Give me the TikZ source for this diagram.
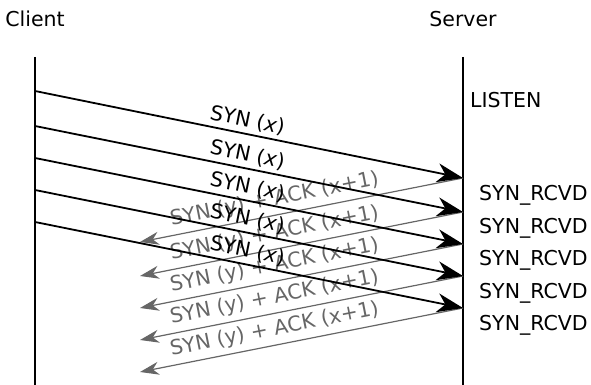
\documentclass[tikz,border=0pt]{standalone}
\usepackage{fontspec}
\setmainfont{DejaVu Sans}
\usetikzlibrary{arrows.meta}
\definecolor{ackgray}{HTML}{666666}
\begin{document}
\begin{tikzpicture}[x=1pt,y=-1pt,
  every node/.style={font=\fontsize{20.5}{24}\selectfont},
  lifeline/.style={line width=1.9pt, black},
  synarrow/.style={line width=1.8pt, black, -{Stealth[length=26pt,width=19pt,inset=8pt]}},
  ackarrow/.style={line width=1.2pt, ackgray, -{Stealth[length=19pt,width=13pt,inset=6pt]}},
  synlabel/.style={sloped, above, pos=0.49, inner sep=3.5pt, text=black},
  acklabel/.style={sloped, above, pos=0.574, inner sep=5pt, text=ackgray},
  statelabel/.style={anchor=base west, inner sep=0pt}]
\useasboundingbox (0,0) rectangle (591,385);
% lifelines
\coordinate (ctop) at (35,57);
\coordinate (cbot) at (35,385);
\coordinate (stop) at (463,57);
\coordinate (sbot) at (463,385);
\draw[lifeline] (ctop) -- (cbot);
\draw[lifeline] (stop) -- (sbot);
\node[anchor=base, inner sep=0pt] (client) at (35,27) {Client};
\node[anchor=base, inner sep=0pt] (server) at (463,27) {Server};
\node[statelabel] (listen) at (470,108) {LISTEN};
% client send points
\coordinate (c1) at (35,91);
\coordinate (c2) at (35,126);
\coordinate (c3) at (35,158);
\coordinate (c4) at (35,190);
\coordinate (c5) at (35,222);
% server receive points
\coordinate (s1) at (463,178);
\coordinate (s2) at (463,212);
\coordinate (s3) at (463,244);
\coordinate (s4) at (463,276);
\coordinate (s5) at (463,308);
% client receive points (ack tips)
\coordinate (r1) at (140,242);
\coordinate (r2) at (140,276);
\coordinate (r3) at (140,308);
\coordinate (r4) at (140,340);
\coordinate (r5) at (140,372);
% ack arrows
\foreach \i in {1,...,5}{
  \draw[ackarrow] (s\i) -- node[acklabel] (ack\i) {SYN (y) + ACK (x+1)} (r\i);
}
% syn arrows
\foreach \i in {1,...,5}{
  \draw[synarrow] (c\i) -- node[synlabel] (syn\i) {SYN (\textit{x})} (s\i);
}
% states
\node[statelabel] (st1) at (479,200) {SYN\_RCVD};
\node[statelabel] (st2) at (479,233) {SYN\_RCVD};
\node[statelabel] (st3) at (479,265) {SYN\_RCVD};
\node[statelabel] (st4) at (479,298) {SYN\_RCVD};
\node[statelabel] (st5) at (479,330) {SYN\_RCVD};
\end{tikzpicture}
\end{document}
